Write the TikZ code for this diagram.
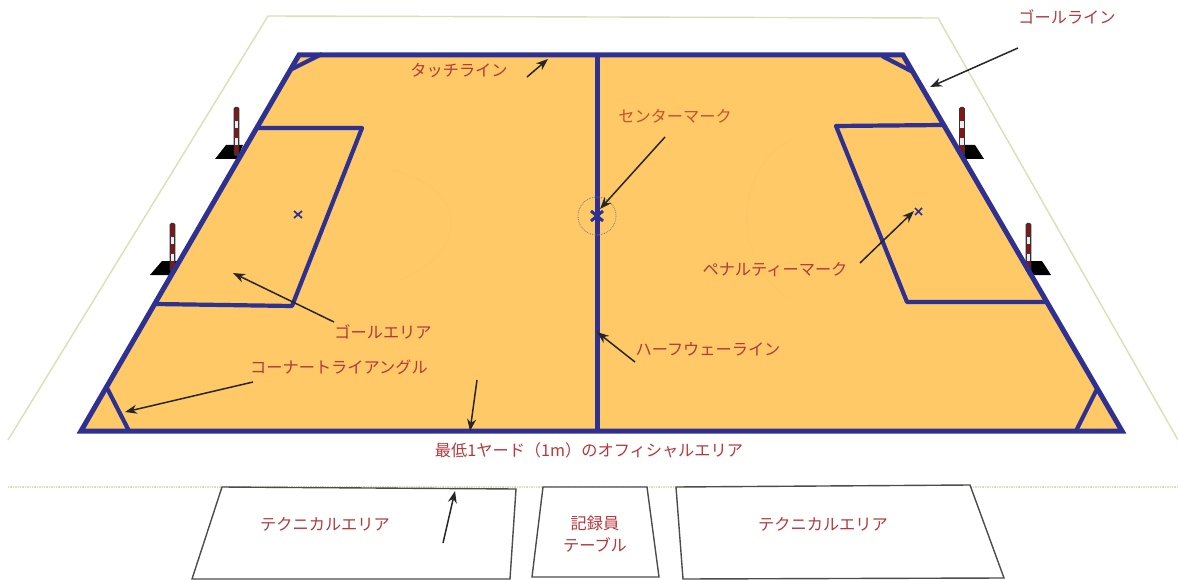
\documentclass[tikz,border=0pt]{standalone}
\usepackage{fontspec}
\newfontfamily\cjk{Noto Sans CJK JP}
\usetikzlibrary{arrows.meta}
\definecolor{court}{HTML}{FEC966}
\definecolor{courtline}{HTML}{2E3192}
\definecolor{boundary}{HTML}{D8E0B4}
\definecolor{lab}{HTML}{B5383C}
\definecolor{labo}{HTML}{C8502A}
\definecolor{faint}{HTML}{FBC666}
\tikzset{
  every node/.style={font=\cjk\fontsize{16.2}{20}\selectfont,text=lab,inner sep=0pt},
  fieldline/.style={draw=courtline,line width=5pt,line join=miter},
  arealine/.style={draw=courtline,line width=4.2pt,line join=round},
  boundaryline/.style={draw=boundary,line width=1.4pt},
  callout/.style={draw=black!85,line width=1.5pt,-{Stealth[length=12pt,width=9pt]}},
  benchbox/.style={draw=black!70,line width=1.4pt,fill=white},
  penmark/.style={draw=courtline,line width=1.7pt},
  base/.style={fill=black},
}
\begin{document}
\begin{tikzpicture}[x=1pt,y=-1pt]
\useasboundingbox (0,0) rectangle (1178,580);
% boundary
\draw[boundaryline] (8,440) -- (268,16) -- (938,18) -- (1178,440);
\draw[boundaryline,densely dotted] (8,487) -- (1178,487);
% court
\fill[court] (299,55) -- (903,55) -- (1122,431) -- (81,431) -- cycle;
% faint court arcs
\draw[faint,line width=.6pt] (392,170) .. controls (470,190) and (470,250) .. (400,280);
\draw[faint,line width=.6pt] (790,140) .. controls (735,170) and (730,260) .. (790,300);
% goal post bases
\fill[base] (226,145) -- (243,145) -- (237,159) -- (215,159) -- cycle;
\fill[base] (162,261) -- (178,261) -- (172,275) -- (150,275) -- cycle;
\fill[base] (960,145) -- (975,145) -- (984,159) -- (962,159) -- cycle;
\fill[base] (1026,261) -- (1042,261) -- (1051,275) -- (1028,275) -- cycle;
% goal posts
\foreach \px/\py in {236.5/107, 172.5/223, 962/107, 1028.5/223}{
  \fill[black!80,rounded corners=1.5pt] (\px-2.8,\py) rectangle (\px+2.8,\py+49);
  \fill[red!55!black!85!gray] (\px-1.7,\py+1) rectangle (\px+1.7,\py+47);
  \fill[white!85!gray] (\px-1.7,\py+14) rectangle (\px+1.7,\py+21);
  \fill[white!85!gray] (\px-1.7,\py+31) rectangle (\px+1.7,\py+38);
}
% court lines
\draw[fieldline] (299,55) -- (903,55) -- (1122,431) -- (81,431) -- cycle;
\draw[courtline,line width=5pt] (597,55) -- (597,431);
% goal areas
\draw[arealine] (257,128) -- (362,128) -- (292,306) -- (155,304);
\draw[arealine] (942,125) -- (836,126) -- (907,302) -- (1046,302);
% corner triangles
\draw[arealine] (290,70) -- (322,54);
\draw[arealine] (882,56) -- (913,72);
\draw[arealine] (107,388) -- (129,431);
\draw[arealine] (1097,389) -- (1076,431);
% marks
\draw[gray,line width=.8pt,densely dotted] (597,216) circle (19);
\draw[courtline,line width=3pt] (591,211) -- (603,221) (603,211) -- (591,221);
\draw[penmark] (294,211) -- (302,218) (302,211) -- (294,218);
\draw[penmark] (915,208) -- (922,215) (922,208) -- (915,215);
% bench boxes
\draw[benchbox] (222,487) -- (516,489) -- (510,579) -- (192,579) -- cycle;
\draw[benchbox] (543,487) -- (647,487) -- (659,577) -- (532,577) -- cycle;
\draw[benchbox] (676,487) -- (970,485) -- (1004,578) -- (683,579) -- cycle;
% labels
\node (touch) at (459,71) {タッチライン};
\node (goalline) at (1067,17) {ゴールライン};
\node[text=labo] (center) at (675,116) {センターマーク};
\node (penalty) at (775,270) {ペナルティーマーク};
\node (goalarea) at (383,332) {ゴールエリア};
\node (halfway) at (708,349) {ハーフウェーライン};
\node (corner) at (339,367) {コーナートライアングル};
\node (official) at (589,450) {最低1ヤード（1m）のオフィシャルエリア};
\node (tech1) at (325,524) {テクニカルエリア};
\node[align=center,font=\cjk\fontsize{16.2}{22}\selectfont] (recorder) at (595,534) {記録員\\テーブル};
\node (tech2) at (823,524) {テクニカルエリア};
% arrow ends
\coordinate (touchS) at (527,77);  \coordinate (touchE) at (548,59);
\coordinate (goalS) at (1018,48);  \coordinate (goalE) at (930,87);
\coordinate (centerS) at (665,137); \coordinate (centerE) at (600,209);
\coordinate (penS) at (860,263);   \coordinate (penE) at (914,211);
\coordinate (areaS) at (334,322);  \coordinate (areaE) at (233,273);
\coordinate (halfS) at (635,362);  \coordinate (halfE) at (597,332);
\coordinate (cornerS) at (253,382); \coordinate (cornerE) at (125,412);
\coordinate (baseS) at (477,380);  \coordinate (baseE) at (470,431);
\coordinate (techS) at (443,543);  \coordinate (techE) at (455,491);
\draw[callout] (touchS) -- (touchE);
\draw[callout] (goalS) -- (goalE);
\draw[callout] (centerS) -- (centerE);
\draw[callout] (penS) -- (penE);
\draw[callout] (areaS) -- (areaE);
\draw[callout] (halfS) -- (halfE);
\draw[callout] (cornerS) -- (cornerE);
\draw[callout] (baseS) -- (baseE);
\draw[callout] (techS) -- (techE);
\end{tikzpicture}
\end{document}
